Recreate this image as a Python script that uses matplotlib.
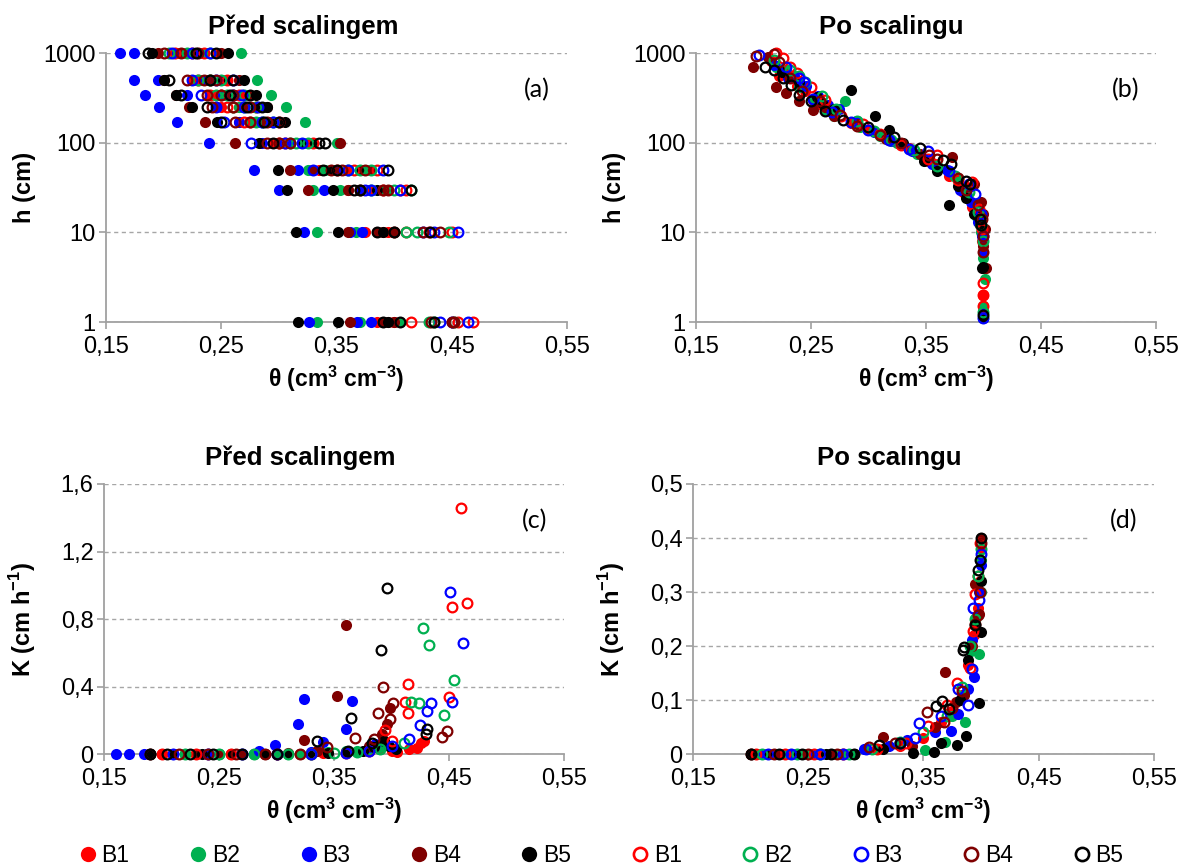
import numpy as np
import matplotlib
matplotlib.use('Agg')
import matplotlib.pyplot as plt
from matplotlib.lines import Line2D
from matplotlib.ticker import FixedLocator, FuncFormatter

plt.rcParams['font.family'] = ['Liberation Sans', 'DejaVu Sans']
plt.rcParams['mathtext.fontset'] = 'custom'
plt.rcParams['mathtext.rm'] = 'Liberation Sans'
plt.rcParams['mathtext.bf'] = 'Liberation Sans:bold'

names = ['B1', 'B2', 'B3', 'B4', 'B5']
colors = ['#FF0000', '#00B050', '#0000FF', '#7F0000', '#000000']

# (a) retention before scaling: 3 samples x h levels per series
h_levels = [1000, 500, 340, 250, 170, 100, 50, 30, 10, 1]

ret_full_b1 = [[0.22, 0.23, 0.245, 0.265, 0.28, 0.30, 0.345, 0.37, 0.39, 0.395],
               [0.245, 0.255, 0.27, 0.28, 0.29, 0.325, 0.36, 0.38, 0.395, 0.40],
               [0.21, 0.225, 0.24, 0.25, 0.265, 0.295, 0.335, 0.36, 0.375, 0.385]]
ret_full_b2 = [[0.267, 0.281, 0.293, 0.306, 0.323, 0.35, 0.375, 0.39, 0.40, 0.405],
               [0.235, 0.25, 0.26, 0.27, 0.28, 0.30, 0.325, 0.33, 0.333, 0.333],
               [0.22, 0.24, 0.255, 0.265, 0.275, 0.31, 0.34, 0.353, 0.367, 0.37]]
ret_full_b3 = [[0.162, 0.174, 0.184, 0.196, 0.212, 0.239, 0.278, 0.30, 0.322, 0.326],
               [0.174, 0.195, 0.22, 0.245, 0.265, 0.285, 0.317, 0.339, 0.362, 0.368],
               [0.21, 0.235, 0.25, 0.27, 0.29, 0.31, 0.35, 0.37, 0.372, 0.38]]
ret_full_b4 = [[0.195, 0.20, 0.211, 0.222, 0.236, 0.262, 0.31, 0.325, 0.36, 0.362],
               [0.215, 0.24, 0.255, 0.27, 0.285, 0.30, 0.33, 0.36, 0.385, 0.39],
               [0.25, 0.265, 0.275, 0.29, 0.30, 0.353, 0.38, 0.395, 0.40, 0.40]]
ret_full_b5 = [[0.19, 0.20, 0.211, 0.225, 0.246, 0.283, 0.299, 0.307, 0.315, 0.317],
               [0.23, 0.25, 0.26, 0.28, 0.295, 0.32, 0.345, 0.347, 0.351, 0.351],
               [0.256, 0.27, 0.28, 0.29, 0.305, 0.33, 0.37, 0.385, 0.39, 0.395]]
ret_open_b1 = [[0.225, 0.24, 0.25, 0.26, 0.275, 0.305, 0.365, 0.405, 0.41, 0.415],
               [0.235, 0.255, 0.265, 0.28, 0.30, 0.33, 0.385, 0.41, 0.45, 0.468],
               [0.21, 0.23, 0.24, 0.255, 0.27, 0.30, 0.35, 0.39, 0.43, 0.455]]
ret_open_b2 = [[0.205, 0.23, 0.245, 0.26, 0.28, 0.31, 0.36, 0.40, 0.42, 0.43],
               [0.24, 0.25, 0.27, 0.28, 0.295, 0.325, 0.38, 0.415, 0.448, 0.452],
               [0.22, 0.24, 0.255, 0.27, 0.285, 0.315, 0.37, 0.38, 0.41, 0.435]]
ret_open_b3 = [[0.207, 0.225, 0.232, 0.245, 0.252, 0.276, 0.33, 0.375, 0.435, 0.45],
               [0.24, 0.26, 0.268, 0.282, 0.295, 0.32, 0.39, 0.405, 0.455, 0.464],
               [0.225, 0.245, 0.26, 0.27, 0.285, 0.305, 0.36, 0.38, 0.425, 0.44]]
ret_open_b4 = [[0.20, 0.22, 0.238, 0.242, 0.262, 0.29, 0.345, 0.37, 0.40, 0.45],
               [0.23, 0.245, 0.26, 0.275, 0.29, 0.31, 0.375, 0.39, 0.425, 0.432],
               [0.215, 0.235, 0.25, 0.26, 0.275, 0.30, 0.355, 0.395, 0.44, 0.452]]
ret_open_b5 = [[0.186, 0.205, 0.215, 0.238, 0.25, 0.295, 0.338, 0.365, 0.385, 0.39],
               [0.228, 0.24, 0.258, 0.272, 0.287, 0.335, 0.395, 0.415, 0.431, 0.435],
               [0.245, 0.26, 0.275, 0.285, 0.30, 0.34, 0.35, 0.37, 0.40, 0.405]]

# (b) retention after scaling: theta, h
sc_full_th = [
    [0.215, 0.222, 0.225, 0.232, 0.238, 0.245, 0.252, 0.258, 0.27, 0.285, 0.30, 0.318, 0.335, 0.352, 0.37, 0.382, 0.39, 0.396, 0.399, 0.40, 0.40],
    [0.22, 0.228, 0.233, 0.24, 0.253, 0.262, 0.27, 0.28, 0.293, 0.31, 0.325, 0.342, 0.36, 0.378, 0.386, 0.394, 0.398, 0.40, 0.401, 0.40],
    [0.218, 0.23, 0.235, 0.246, 0.256, 0.265, 0.274, 0.29, 0.305, 0.32, 0.338, 0.355, 0.368, 0.38, 0.389, 0.395, 0.399, 0.40, 0.40],
    [0.200, 0.213, 0.22, 0.228, 0.232, 0.24, 0.252, 0.262, 0.27, 0.29, 0.315, 0.345, 0.373, 0.385, 0.392, 0.398, 0.40, 0.401, 0.40, 0.402],
    [0.225, 0.24, 0.255, 0.26, 0.27, 0.285, 0.306, 0.318, 0.33, 0.348, 0.36, 0.37, 0.378, 0.385, 0.392, 0.397, 0.40, 0.399, 0.40]]
sc_full_h = [
    [820, 560, 610, 560, 430, 380, 300, 270, 215, 165, 140, 112, 88, 62, 42, 28, 19, 13, 8, 4, 2],
    [700, 640, 560, 420, 300, 230, 200, 295, 150, 120, 100, 75, 52, 40, 26, 15, 10, 5.2, 3, 1.5],
    [730, 520, 560, 430, 330, 260, 235, 175, 132, 105, 80, 58, 50, 30, 22, 13, 9, 6, 1.3],
    [700, 900, 420, 360, 560, 290, 230, 250, 200, 160, 110, 75, 70, 32, 35, 22, 16, 11, 7, 4],
    [620, 470, 320, 280, 240, 390, 196, 140, 100, 62, 48, 20, 33, 24, 16, 12, 4.1, 4.0, 1.1]]
sc_open_th = [
    [0.22, 0.226, 0.232, 0.238, 0.25, 0.262, 0.276, 0.295, 0.31, 0.328, 0.352, 0.36, 0.378, 0.39, 0.396, 0.399, 0.40, 0.40, 0.40],
    [0.218, 0.232, 0.24, 0.245, 0.26, 0.272, 0.29, 0.305, 0.32, 0.34, 0.36, 0.375, 0.387, 0.395, 0.398, 0.40, 0.40],
    [0.205, 0.228, 0.24, 0.244, 0.252, 0.268, 0.285, 0.30, 0.318, 0.335, 0.352, 0.37, 0.387, 0.393, 0.398, 0.40, 0.40],
    [0.202, 0.218, 0.222, 0.232, 0.242, 0.258, 0.275, 0.29, 0.31, 0.328, 0.353, 0.36, 0.378, 0.385, 0.395, 0.399, 0.40, 0.40],
    [0.21, 0.218, 0.226, 0.233, 0.24, 0.25, 0.262, 0.278, 0.30, 0.322, 0.345, 0.365, 0.372, 0.385, 0.388, 0.397, 0.398, 0.40]]
sc_open_h = [
    [1000, 880, 700, 600, 420, 300, 200, 160, 125, 95, 65, 72, 38, 36, 18, 11, 2.7, 2.0, 1.5],
    [830, 650, 560, 480, 330, 240, 175, 135, 108, 82, 55, 42, 28, 17, 12, 8, 1.3],
    [950, 700, 520, 470, 310, 220, 170, 140, 108, 85, 80, 48, 35, 27, 16, 9, 1.1],
    [930, 980, 800, 530, 380, 290, 205, 155, 122, 98, 72, 66, 40, 30, 20, 14, 9, 6],
    [700, 650, 520, 440, 340, 290, 225, 180, 150, 115, 88, 64, 58, 37, 35, 14, 12, 1.2]]

# (c) conductivity before scaling: theta, K
k_full_th = [
    [0.20, 0.22, 0.24, 0.26, 0.28, 0.30, 0.32, 0.34, 0.36, 0.38, 0.39, 0.40, 0.405, 0.415, 0.422, 0.426, 0.428],
    [0.19, 0.22, 0.25, 0.28, 0.30, 0.32, 0.33, 0.345, 0.36, 0.37, 0.38, 0.39],
    [0.16, 0.172, 0.185, 0.21, 0.24, 0.27, 0.285, 0.299, 0.319, 0.324, 0.33, 0.34, 0.36, 0.366, 0.38, 0.386],
    [0.19, 0.21, 0.23, 0.25, 0.27, 0.29, 0.31, 0.324, 0.335, 0.353, 0.36, 0.38, 0.392, 0.396, 0.399],
    [0.19, 0.21, 0.235, 0.26, 0.29, 0.31, 0.33, 0.345, 0.36, 0.375, 0.385, 0.3935, 0.398, 0.404]]
k_full = [
    [0, 0, 0, 0, 0, 0, 0, 0.005, 0.01, 0.02, 0.03, 0.02, 0.014, 0.03, 0.037, 0.067, 0.08],
    [0, 0, 0, 0, 0, 0.003, 0.005, 0.01, 0.02, 0.02, 0.03, 0.04],
    [0, 0, 0, 0, 0, 0, 0.02, 0.053, 0.178, 0.328, 0.01, 0.07, 0.146, 0.316, 0.04, 0.06],
    [0, 0, 0, 0, 0, 0, 0.005, 0.083, 0.02, 0.345, 0.766, 0.05, 0.12, 0.178, 0.273],
    [0, 0, 0, 0, 0, 0, 0, 0.005, 0.01, 0.02, 0.04, 0.079, 0.05, 0.03]]
k_open_th = [
    [0.20, 0.23, 0.26, 0.30, 0.33, 0.36, 0.38, 0.394, 0.40, 0.4115, 0.414, 0.414, 0.45, 0.453, 0.46, 0.466],
    [0.22, 0.25, 0.28, 0.31, 0.33, 0.35, 0.37, 0.39, 0.411, 0.417, 0.424, 0.427, 0.433, 0.446, 0.454],
    [0.21, 0.24, 0.27, 0.30, 0.33, 0.36, 0.38, 0.40, 0.415, 0.425, 0.4305, 0.434, 0.451, 0.453, 0.462],
    [0.19, 0.215, 0.24, 0.265, 0.29, 0.32, 0.344, 0.368, 0.385, 0.388, 0.393, 0.399, 0.4016, 0.444, 0.4485],
    [0.19, 0.205, 0.225, 0.245, 0.27, 0.30, 0.335, 0.362, 0.365, 0.383, 0.391, 0.396, 0.4297, 0.4305]]
k_open = [
    [0, 0, 0, 0, 0, 0.005, 0.02, 0.142, 0.08, 0.31, 0.245, 0.413, 0.34, 0.87, 1.46, 0.897],
    [0, 0, 0, 0, 0, 0.005, 0.01, 0.03, 0.067, 0.31, 0.30, 0.747, 0.648, 0.231, 0.438],
    [0, 0, 0, 0, 0, 0.005, 0.02, 0.05, 0.087, 0.172, 0.257, 0.304, 0.96, 0.306, 0.66],
    [0, 0, 0, 0, 0, 0, 0.04, 0.097, 0.091, 0.245, 0.395, 0.205, 0.304, 0.099, 0.134],
    [0, 0, 0, 0, 0, 0, 0.079, 0.02, 0.215, 0.067, 0.618, 0.984, 0.118, 0.146]]

# (d) conductivity after scaling: theta, K
ks_full_th = [
    [0.20, 0.22, 0.24, 0.26, 0.28, 0.31, 0.33, 0.35, 0.365, 0.375, 0.383, 0.389, 0.394, 0.397, 0.399, 0.40],
    [0.205, 0.23, 0.25, 0.275, 0.30, 0.33, 0.351, 0.369, 0.375, 0.386, 0.391, 0.395, 0.398, 0.40, 0.40],
    [0.21, 0.235, 0.255, 0.28, 0.298, 0.32, 0.336, 0.36, 0.374, 0.38, 0.389, 0.392, 0.394, 0.398, 0.40],
    [0.20, 0.225, 0.245, 0.27, 0.29, 0.315, 0.34, 0.36, 0.369, 0.378, 0.385, 0.392, 0.395, 0.398, 0.40],
    [0.20, 0.215, 0.24, 0.265, 0.29, 0.315, 0.341, 0.359, 0.365, 0.379, 0.382, 0.387, 0.389, 0.395, 0.398, 0.40, 0.40]]
ks_full = [
    [0, 0, 0, 0, 0, 0.01, 0.015, 0.03, 0.06, 0.08, 0.11, 0.165, 0.22, 0.27, 0.32, 0.38],
    [0, 0, 0, 0, 0.01, 0.022, 0.007, 0.022, 0.07, 0.06, 0.19, 0.25, 0.186, 0.30, 0.36],
    [0, 0, 0, 0, 0.01, 0.015, 0.026, 0.04, 0.043, 0.075, 0.12, 0.211, 0.142, 0.30, 0.35],
    [0, 0, 0, 0, 0, 0.032, 0.015, 0.05, 0.151, 0.097, 0.11, 0.20, 0.315, 0.26, 0.40],
    [0, 0, 0, 0, 0, 0.01, 0.001, 0.004, 0.02, 0.017, 0.10, 0.034, 0.174, 0.24, 0.094, 0.226, 0.32]]
ks_open_th = [
    [0.205, 0.23, 0.255, 0.28, 0.31, 0.335, 0.354, 0.37, 0.379, 0.39, 0.3926, 0.395, 0.397, 0.399],
    [0.21, 0.24, 0.26, 0.285, 0.305, 0.33, 0.35, 0.37, 0.383, 0.39, 0.395, 0.397, 0.40],
    [0.215, 0.235, 0.26, 0.28, 0.30, 0.33, 0.343, 0.346, 0.365, 0.38, 0.389, 0.392, 0.393, 0.398, 0.40],
    [0.20, 0.22, 0.25, 0.275, 0.303, 0.325, 0.353, 0.368, 0.375, 0.383, 0.395, 0.397, 0.399, 0.40],
    [0.20, 0.225, 0.245, 0.27, 0.29, 0.311, 0.33, 0.361, 0.366, 0.372, 0.384, 0.385, 0.395, 0.397, 0.399, 0.40]]
ks_open = [
    [0, 0, 0, 0, 0.01, 0.02, 0.052, 0.09, 0.131, 0.16, 0.227, 0.297, 0.33, 0.39],
    [0, 0, 0, 0, 0.01, 0.022, 0.04, 0.07, 0.125, 0.20, 0.25, 0.33, 0.38],
    [0, 0, 0, 0, 0.01, 0.02, 0.03, 0.057, 0.07, 0.12, 0.091, 0.157, 0.271, 0.285, 0.37],
    [0, 0, 0, 0, 0.013, 0.02, 0.077, 0.06, 0.085, 0.117, 0.24, 0.257, 0.30, 0.39],
    [0, 0, 0, 0, 0, 0.016, 0.02, 0.089, 0.099, 0.083, 0.193, 0.199, 0.239, 0.34, 0.36, 0.40]]

ret_full = [ret_full_b1, ret_full_b2, ret_full_b3, ret_full_b4, ret_full_b5]
ret_open = [ret_open_b1, ret_open_b2, ret_open_b3, ret_open_b4, ret_open_b5]

grid_c = '#A6A6A6'
axis_c = '#A0A0A0'
theta_label = r'θ (cm$^{\mathbf{3}}$ cm$^{\mathbf{-3}}$)'
comma = FuncFormatter(lambda v, p: ('%g' % v).replace('.', ','))


def full_pts(ax, x, y, c):
    ax.plot(x, y, 'o', ls='none', ms=8, mfc=c, mec=c, mew=0, zorder=3)


def open_pts(ax, x, y, c):
    ax.plot(x, y, 'o', ls='none', ms=7, mfc='none', mec=c, mew=1.6, zorder=4)


def style(ax, title, tx, ylabel, letter, yticks, log=False):
    for s in ['top', 'right']:
        ax.spines[s].set_visible(False)
    for s in ['left', 'bottom']:
        ax.spines[s].set_color(axis_c)
        ax.spines[s].set_linewidth(1.3)
    ax.set_xlim(0.15, 0.55)
    ax.xaxis.set_major_locator(FixedLocator([0.15, 0.25, 0.35, 0.45, 0.55]))
    ax.xaxis.set_major_formatter(comma)
    if log:
        ax.set_yscale('log')
        ax.set_ylim(1, 1000)
        ax.yaxis.set_minor_locator(FixedLocator([]))
    else:
        ax.set_ylim(yticks[0], yticks[-1])
    ax.yaxis.set_major_locator(FixedLocator(yticks))
    ax.yaxis.set_major_formatter(comma)
    ax.tick_params(axis='both', direction='out', length=5, width=1.2, color=axis_c,
                   labelsize=17)
    ax.tick_params(axis='x', pad=5)
    ax.tick_params(axis='y', pad=2.5)
    ax.grid(axis='y', color=grid_c, ls=(0, (3, 2.5)), lw=1)
    ax.set_axisbelow(True)
    ax.set_xlabel(theta_label, fontsize=16.5, fontweight='bold', va='center')
    ax.xaxis.set_label_coords(0.5, -0.212)
    ax.set_ylabel(ylabel, fontsize=17, fontweight='bold', va='center')
    ax.yaxis.set_label_coords(-0.177, 0.5)
    ax.text(tx, 1.097, title, transform=ax.transAxes, ha='center', va='center',
            fontsize=18.5, fontweight='bold')
    ax.text(0.963, 0.865, letter, transform=ax.transAxes, ha='right', va='center',
            fontsize=18, family=['Lato', 'DejaVu Sans'], zorder=5,
            bbox=dict(boxstyle='square,pad=0.8', fc='white', ec='none') if letter == '(d)' else None)


fig = plt.figure(figsize=(11.82, 8.68), dpi=100)
ax_a = fig.add_axes([0.0897, 0.6290, 0.3900, 0.3099])
ax_b = fig.add_axes([0.5888, 0.6290, 0.3892, 0.3099])
ax_c = fig.add_axes([0.0880, 0.1313, 0.3892, 0.3111])
ax_d = fig.add_axes([0.5863, 0.1313, 0.3900, 0.3111])

h_tiled = np.tile(h_levels, 3)
for i in range(5):
    full_pts(ax_a, np.ravel(ret_full[i]), h_tiled, colors[i])
    full_pts(ax_b, sc_full_th[i], sc_full_h[i], colors[i])
    full_pts(ax_c, k_full_th[i], k_full[i], colors[i])
    full_pts(ax_d, ks_full_th[i], ks_full[i], colors[i])
for i in range(5):
    open_pts(ax_a, np.ravel(ret_open[i]), h_tiled, colors[i])
    open_pts(ax_b, sc_open_th[i], sc_open_h[i], colors[i])
    open_pts(ax_c, k_open_th[i], k_open[i], colors[i])
    open_pts(ax_d, ks_open_th[i], ks_open[i], colors[i])

style(ax_a, 'Před scalingem', 0.427, 'h (cm)', '(a)', [1, 10, 100, 1000], log=True)
style(ax_b, 'Po scalingu', 0.425, 'h (cm)', '(b)', [1, 10, 100, 1000], log=True)
k_label = r'K (cm h$^{\mathbf{-1}}$)'
style(ax_c, 'Před scalingem', 0.427, k_label, '(c)', [0, 0.4, 0.8, 1.2, 1.6])
style(ax_d, 'Po scalingu', 0.425, k_label, '(d)', [0, 0.1, 0.2, 0.3, 0.4, 0.5])
for ax in (ax_a, ax_b, ax_c, ax_d):
    for ln in ax.lines:
        ln.set_clip_on(False)

handles = []
labels = []
for i in range(5):
    handles.append(Line2D([], [], ls='none', marker='o', ms=11, mfc=colors[i], mec=colors[i], mew=0))
    labels.append(names[i])
for i in range(5):
    handles.append(Line2D([], [], ls='none', marker='o', ms=9.5, mfc='none', mec=colors[i], mew=1.9))
    labels.append(names[i])
fig.legend(handles, labels, loc='center', bbox_to_anchor=(0.508, 1 - 856 / 868), ncol=10,
           frameon=False, fontsize=16.5, handlelength=0.9, handletextpad=0.15,
           columnspacing=2.55, borderpad=0)

fig.savefig('out.png', dpi=100)
